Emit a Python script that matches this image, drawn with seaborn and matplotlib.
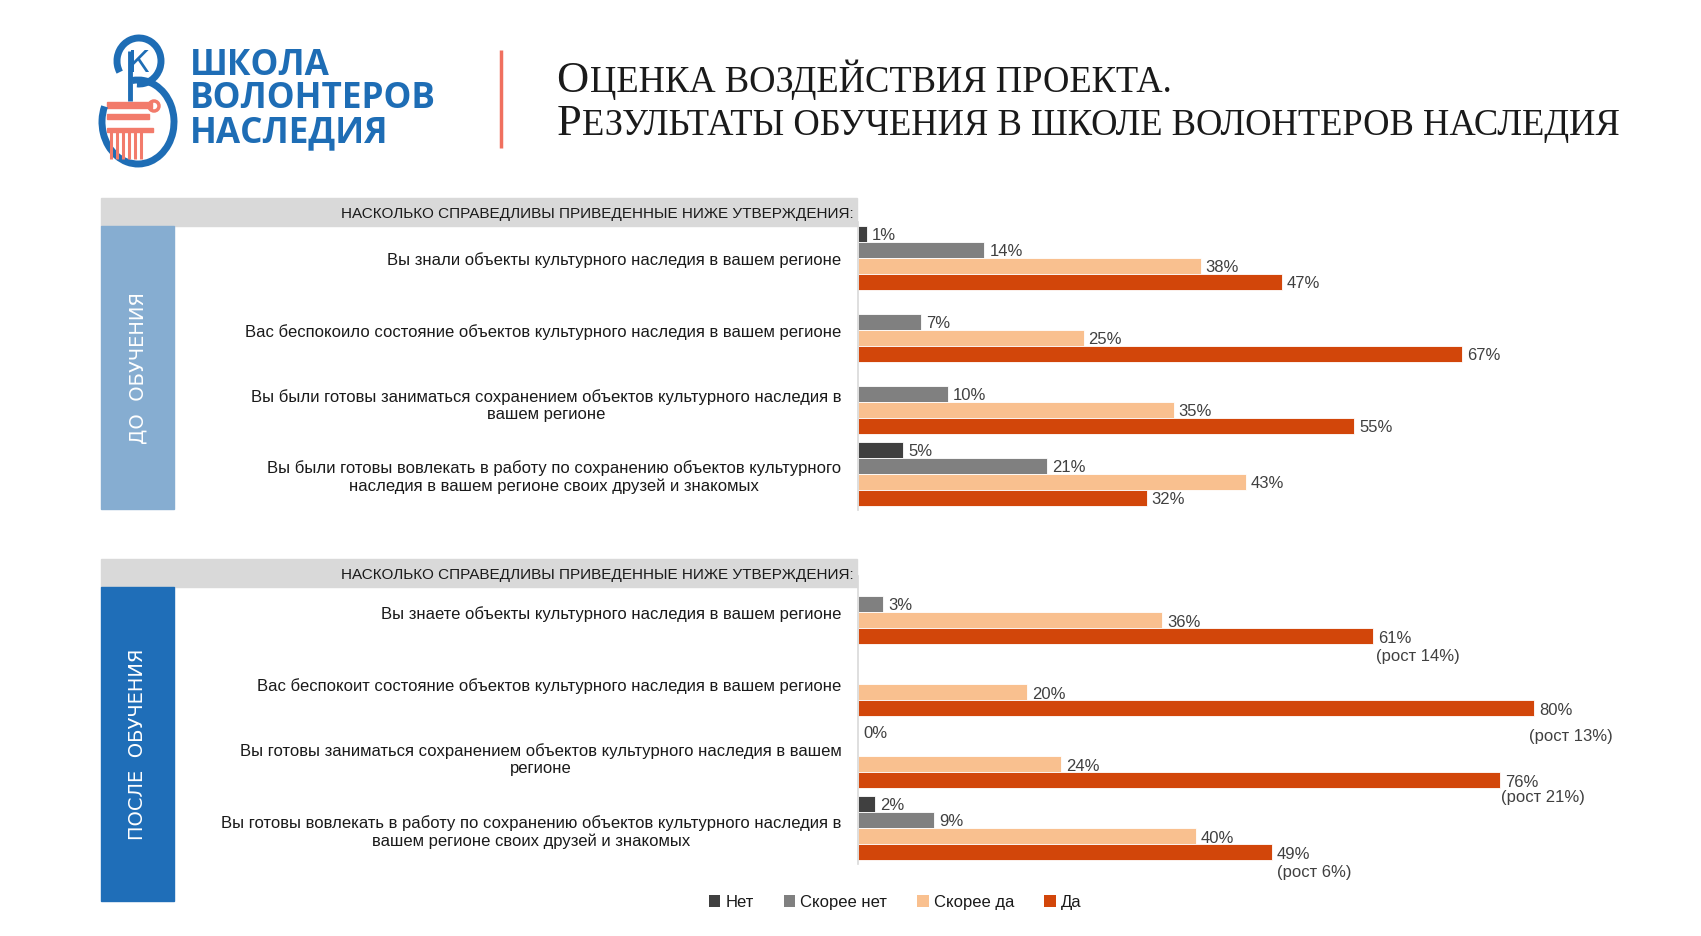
import numpy as np
import pandas as pd
import matplotlib
matplotlib.use("Agg")
import matplotlib.pyplot as plt
import seaborn as sns
from matplotlib import font_manager as fm
from matplotlib.patches import Rectangle, Arc, Patch, Circle

# ---------------- data ----------------
answers = ["Нет", "Скорее нет", "Скорее да", "Да"]
colors = ["#404040", "#808080", "#F9C08F", "#D2460A"]

before_statements = [
    "Вы знали объекты культурного наследия в вашем регионе",
    "Вас беспокоило состояние объектов культурного наследия в вашем регионе",
    "Вы были готовы заниматься сохранением объектов культурного наследия в\nвашем регионе",
    "Вы были готовы вовлекать в работу по сохранению объектов культурного\nнаследия в вашем регионе своих друзей и знакомых",
]
before_net = [1, np.nan, np.nan, 5]
before_rather_no = [14, 7, 10, 21]
before_rather_yes = [38, 25, 35, 43]
before_yes = [47, 67, 55, 32]

after_statements = [
    "Вы знаете объекты культурного наследия в вашем регионе",
    "Вас беспокоит состояние объектов культурного наследия в вашем регионе",
    "Вы готовы заниматься сохранением объектов культурного наследия в вашем\nрегионе",
    "Вы готовы вовлекать в работу по сохранению объектов культурного наследия в\nвашем регионе своих друзей и знакомых",
]
after_net = [np.nan, np.nan, 0, 2]
after_rather_no = [3, np.nan, np.nan, 9]
after_rather_yes = [36, 20, 24, 40]
after_yes = [61, 80, 76, 49]
after_growth = ["(рост 14%)", "(рост 13%)", "(рост 21%)", "(рост 6%)"]

title_line1 = "Оценка воздействия проекта."
title_line2 = "Результаты обучения в школе волонтеров наследия"
logo_lines = ["ШКОЛА", "ВОЛОНТЕРОВ", "НАСЛЕДИЯ"]
header_text = "НАСКОЛЬКО СПРАВЕДЛИВЫ ПРИВЕДЕННЫЕ НИЖЕ УТВЕРЖДЕНИЯ:"
band_before = "ДО  ОБУЧЕНИЯ"
band_after = "ПОСЛЕ  ОБУЧЕНИЯ"

# ---------------- style ----------------
sns.set_theme(style="white")
names = {f.name for f in fm.fontManager.ttflist}
NARROW = "Liberation Sans Narrow" if "Liberation Sans Narrow" in names else "Liberation Sans"
SERIF = "Liberation Serif" if "Liberation Serif" in names else "DejaVu Serif"
BOLD = "Open Sans" if "Open Sans" in names else "DejaVu Sans"
plt.rcParams["font.family"] = [NARROW, "DejaVu Sans"]

W, H = 1701, 937
fig = plt.figure(figsize=(W / 100, H / 100), dpi=100)
fig.patch.set_facecolor("white")
bg = fig.add_axes([0, 0, 1, 1])
bg.set_xlim(0, W)
bg.set_ylim(H, 0)
bg.axis("off")


def fig_rect(x0, y0, x1, y1):
    return [x0 / W, 1 - y1 / H, (x1 - x0) / W, (y1 - y0) / H]


def long_df(statements, net, rno, ryes, yes):
    rows = []
    for s, a, b, c, d in zip(statements, net, rno, ryes, yes):
        for ans, v in zip(answers, [a, b, c, d]):
            rows.append({"statement": s, "answer": ans, "value": v})
    return pd.DataFrame(rows)


BAR_W = 0.889


def draw_panel(rect, statements, net, rno, ryes, yes, xmax):
    ax = fig.add_axes(fig_rect(*rect))
    df = long_df(statements, net, rno, ryes, yes)
    sns.barplot(data=df.dropna(), x="value", y="statement", hue="answer",
                hue_order=answers, order=statements, palette=colors,
                orient="h", width=BAR_W, ax=ax, legend=False, saturation=1,
                edgecolor="white", linewidth=0.6, errorbar=None)
    ax.set_xlim(0, xmax)
    ax.set_ylim(len(statements) - 0.5, -0.5)
    ax.set_xlabel("")
    ax.set_ylabel("")
    ax.set_xticks([])
    ax.tick_params(axis="y", length=0, pad=12, labelsize=12, labelcolor="#1a1a1a")
    for lab in ax.get_yticklabels():
        lab.set_multialignment("center")
        lab.set_linespacing(1.2)
    for sp in ["top", "right", "bottom"]:
        ax.spines[sp].set_visible(False)
    ax.spines["left"].set_color("#D9D9D9")
    ax.spines["left"].set_linewidth(1.2)
    ax.patch.set_alpha(0)
    # value labels
    series = [net, rno, ryes, yes]
    bw = BAR_W / len(answers)
    for j, vals in enumerate(series):
        for i, v in enumerate(vals):
            if np.isnan(v):
                continue
            yy = i + (j - 1.5) * bw
            ax.annotate(f"{int(v)}%", xy=(v, yy), xytext=(5, -1),
                        textcoords="offset pixels", ha="left", va="center",
                        fontsize=12, color="#404040", annotation_clip=False)
    return ax


ax_top = draw_panel((858, 222.7, 1620, 510.7), before_statements, before_net,
                    before_rather_no, before_rather_yes, before_yes, 762 / 9.02)
ax_bot = draw_panel((858, 577, 1620, 865), after_statements, after_net,
                    after_rather_no, after_rather_yes, after_yes, 762 / 8.45)

growth_offsets = [(3, -19), (-5, -27), (1, -16), (5, -19)]
bw = BAR_W / len(answers)
for i, (g, v) in enumerate(zip(after_growth, after_yes)):
    yy = i + 1.5 * bw
    ax_bot.annotate(g, xy=(v, yy), xytext=growth_offsets[i], textcoords="offset pixels",
                    ha="left", va="center", fontsize=12, color="#404040",
                    annotation_clip=False)

# ---------------- headers and side bands ----------------
for (y0, y1), (b0, b1), bcol, btxt in [
    ((198.5, 226.7), (226.7, 510), "#86ADD1", band_before),
    ((560, 588), (588, 901.5), "#1F6EB8", band_after),
]:
    bg.add_patch(Rectangle((101, y0), 756, y1 - y0, color="#D9D9D9", zorder=0))
    bg.text(854, (y0 + y1) / 2 + 1, header_text, ha="right", va="center",
            fontsize=11, color="#1a1a1a")
    bg.add_patch(Rectangle((101, b0), 72.6, b1 - b0, color=bcol, zorder=0))
    bg.text(137.5, (b0 + b1) / 2, btxt, rotation=90, ha="center", va="center",
            fontsize=14, color="white", family="DejaVu Sans")

# ---------------- legend ----------------
handles = [Patch(facecolor=c, edgecolor="none", label=a) for a, c in zip(answers, colors)]
fig.legend(handles=handles, loc="center", bbox_to_anchor=(895 / W, 1 - 903 / H),
           ncol=4, frameon=False, handlelength=0.7, handleheight=0.7,
           handletextpad=0.3, columnspacing=1.8, prop={"family": NARROW, "size": 12},
           labelcolor="#1a1a1a")

# ---------------- logo ----------------
blue = "#1E6DB5"
salmon = "#F27B6B"
# column
bg.add_patch(Rectangle((107, 103), 45, 6, color=salmon))
bg.add_patch(Circle((154, 107), 5, fill=False, ec=salmon, lw=2.5))
bg.add_patch(Rectangle((107, 115), 42, 5, color=salmon))
bg.add_patch(Rectangle((107, 129), 46, 4, color=salmon))
for xx in [111, 117, 123, 129, 135, 141]:
    bg.plot([xx, xx], [133, 160], color=salmon, lw=2.2, solid_capstyle="butt")
# blue strokes
bg.add_patch(Arc((138, 123), 72, 84, theta1=262, theta2=565, color=blue, lw=5))
bg.add_patch(Arc((139, 62), 44, 46, theta1=150, theta2=455, color=blue, lw=5))
bg.plot([130, 130], [52, 102], color=blue, lw=3.5, solid_capstyle="butt")
bg.text(139, 63, "К", ha="center", va="center", fontsize=22, color=blue,
        family="DejaVu Sans")

for k, t in enumerate(logo_lines):
    bg.text(190, 66 + k * 33.5, t, ha="left", va="center", fontsize=25.3,
            fontweight="bold", color=blue, family=BOLD)

bg.plot([501, 501], [51, 149], color="#F0705F", lw=2.5, solid_capstyle="butt")

# ---------------- title (small caps emulation) ----------------
renderer = fig.canvas.get_renderer()


def small_caps(x, y, text, big, small):
    t1 = bg.text(x, y, text[0], fontsize=big, va="baseline", ha="left",
                 family=SERIF, color="#1a1a1a")
    bb = t1.get_window_extent(renderer)
    bg.text(bb.x1 + 1, y, text[1:].upper(), fontsize=small, va="baseline", ha="left",
            family=SERIF, color="#1a1a1a")


small_caps(556.5, 92, title_line1, 32, 26.3)
small_caps(556.5, 135, title_line2, 32, 26.3)

fig.savefig("out.png", dpi=100, facecolor="white")
